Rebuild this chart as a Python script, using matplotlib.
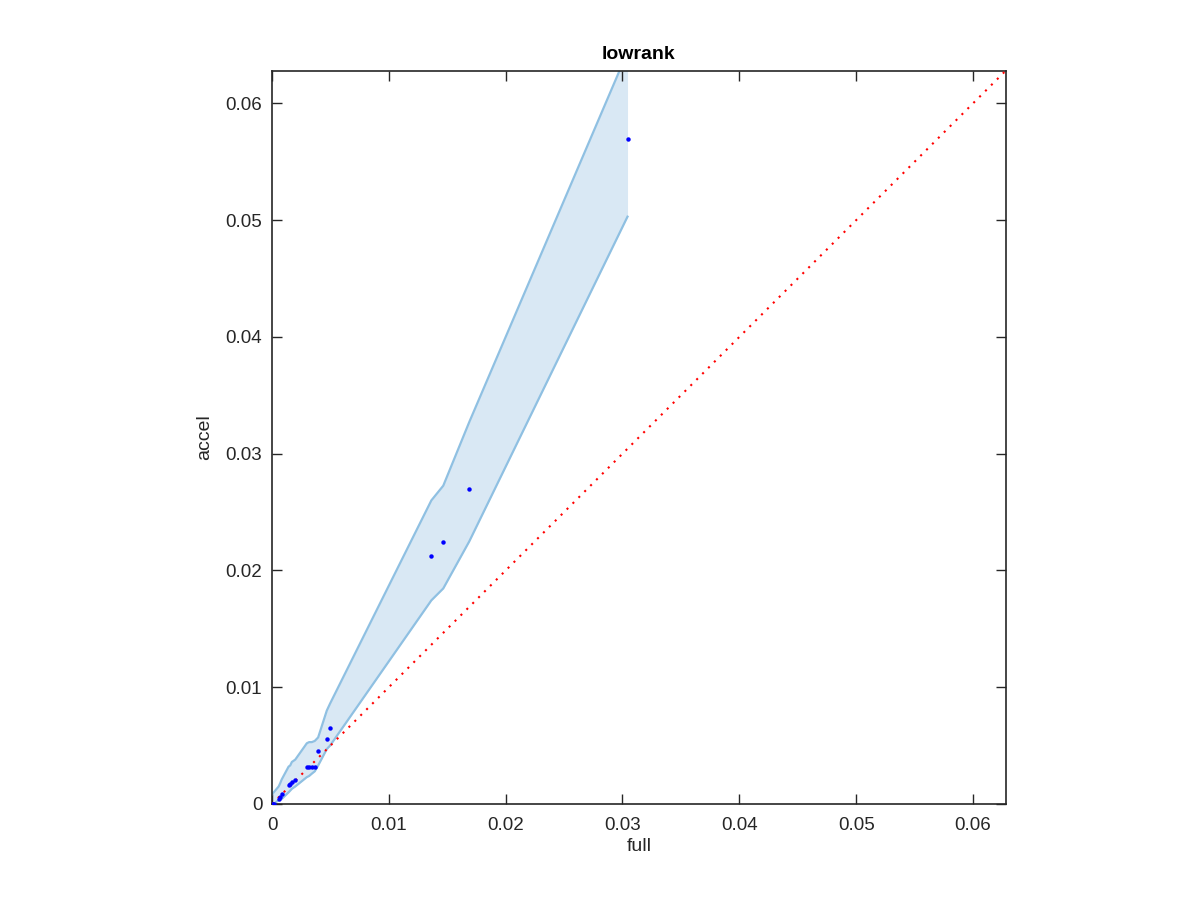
import matplotlib
matplotlib.use("Agg")
import matplotlib.pyplot as plt
import numpy as np

plt.rcParams['font.family'] = ['Liberation Sans', 'DejaVu Sans']

# data points (full, accel)
full_vals = [0.00000, 0.00005, 0.00015, 0.00057, 0.00071, 0.00083, 0.00142, 0.00156,
             0.00170, 0.00199, 0.00298, 0.00318, 0.00341, 0.00366, 0.00395, 0.00469,
             0.00497, 0.01364, 0.01466, 0.01688, 0.03043]
accel_vals = [0.00000, 0.00000, 0.00003, 0.00045, 0.00060, 0.00088, 0.00160, 0.00173,
              0.00188, 0.00203, 0.00319, 0.00319, 0.00319, 0.00319, 0.00453, 0.00558,
              0.00647, 0.02128, 0.02248, 0.02701, 0.05692]
# confidence band bounds at each x
band_upper = [0.0008, 0.0009, 0.0010, 0.0015, 0.0018, 0.0021, 0.0032, 0.0033,
              0.0036, 0.0038, 0.0052, 0.0053, 0.0053, 0.0054, 0.0057, 0.0080,
              0.0086, 0.0260, 0.02726, 0.0327, 0.0644]
band_lower = [0.0000, 0.0000, 0.0000, 0.00034, 0.0004, 0.00043, 0.0010, 0.00115,
              0.0013, 0.0015, 0.0023, 0.0024, 0.0026, 0.0028, 0.0033, 0.0047,
              0.0050, 0.01744, 0.01846, 0.02248, 0.0503]

lim = 0.0628
ticks = [0, 0.01, 0.02, 0.03, 0.04, 0.05, 0.06]
tick_labels = ['0', '0.01', '0.02', '0.03', '0.04', '0.05', '0.06']

fig = plt.figure(figsize=(12, 9), dpi=100)
ax = fig.add_axes([272/1200, 1 - 804/900, (1005.7-272)/1200, (804-70.7)/900])

fill_c = '#d9e8f4'
edge_c = '#8fc0e2'
ax.fill_between(full_vals, band_lower, band_upper, color=fill_c, linewidth=0, zorder=1)
ax.plot(full_vals, band_upper, color=edge_c, lw=1.6, zorder=2)
ax.plot(full_vals, band_lower, color=edge_c, lw=1.6, zorder=2)

ax.plot([0, lim], [0, lim], color='red', lw=1.5, linestyle=(0, (1, 3)), zorder=3)
ax.plot(full_vals, accel_vals, 'o', color='blue', markersize=3.2, markeredgewidth=0, zorder=4)

ax.set_xlim(0, lim)
ax.set_ylim(0, lim)
ax.set_xticks(ticks)
ax.set_xticklabels(tick_labels)
ax.set_yticks(ticks)
ax.set_yticklabels(tick_labels)
ax.tick_params(direction='in', length=7, width=1, top=True, right=True,
               labelsize=13.5, colors='#262626')
ax.tick_params(axis='x', pad=9)
ax.tick_params(axis='y', pad=7)
for s in ax.spines.values():
    s.set_color('#262626')
    s.set_linewidth(1.2)

ax.set_xlabel('full', fontsize=14, color='#262626', labelpad=3.5)
ax.set_ylabel('accel', fontsize=14, color='#262626', labelpad=9)
ax.set_title('lowrank', fontsize=14, fontweight='bold', pad=8.5)

fig.savefig('out.png', dpi=100)
